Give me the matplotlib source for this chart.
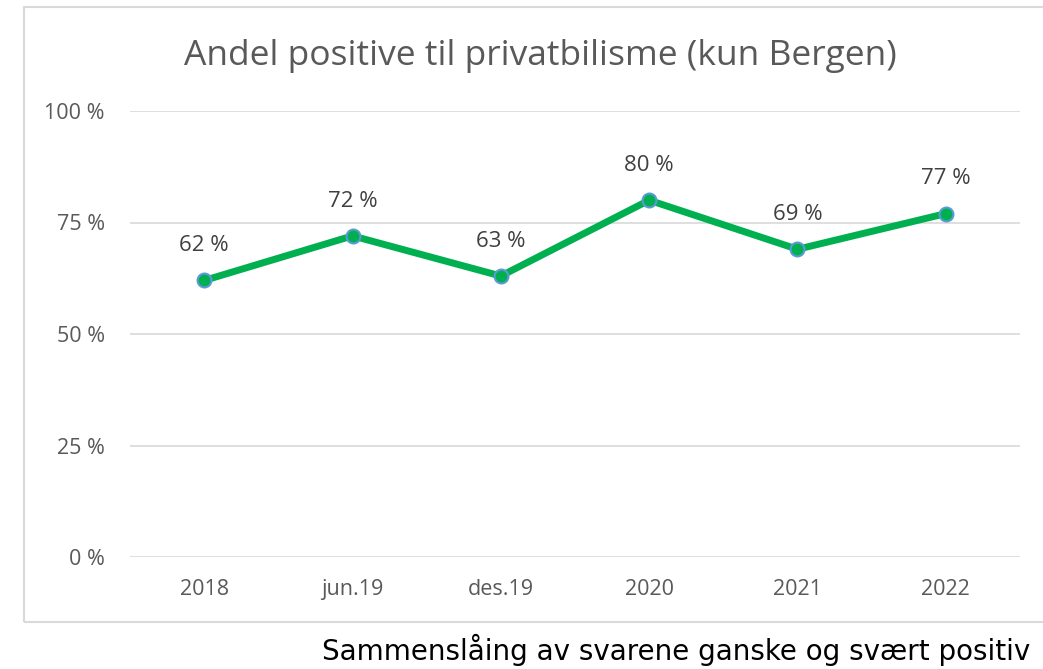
import matplotlib.pyplot as plt
from matplotlib.patches import Rectangle

categories = ["2018", "jun.19", "des.19", "2020", "2021", "2022"]
values = [62, 72, 63, 80, 69, 77]
yticks = [0, 25, 50, 75, 100]

plt.rcParams["font.family"] = ["Open Sans", "DejaVu Sans"]

fig = plt.figure(figsize=(10.43, 6.69), dpi=100)
ax = fig.add_axes([130 / 1043, 1 - 557 / 669, 890 / 1043, 446 / 669])

# chart frame
fig.patches.append(Rectangle((24 / 1043, 1 - 622 / 669), 1.1, 615 / 669,
                             transform=fig.transFigure, fill=False,
                             edgecolor="#d9d9d9", linewidth=1.5))

x = list(range(len(categories)))
ax.plot(x, values, color="#00b050", linewidth=5, marker="o",
        markersize=10, markerfacecolor="#00b050", markeredgecolor="#5b9bd5",
        markeredgewidth=1.5, zorder=3)
for xi, v in zip(x, values):
    ax.annotate(f"{v} %", (xi, v), xytext=(0, 25), textcoords="offset points",
                ha="center", va="center", fontsize=16, color="#404040")

ax.set_xlim(-0.5, len(categories) - 0.5)
ax.set_ylim(0, 100)
ax.set_yticks(yticks)
ax.set_yticklabels([f"{t} %" for t in yticks])
ax.set_xticks(x)
ax.set_xticklabels(categories)
ax.grid(axis="y", color="#d9d9d9", linewidth=1.2)
ax.set_axisbelow(True)
for s in ax.spines.values():
    s.set_visible(False)
ax.tick_params(length=0, labelsize=15.5, labelcolor="#595959")
ax.tick_params(axis="y", pad=18)
ax.tick_params(axis="x", pad=16)

fig.text(540 / 1043, 1 - 56 / 669, "Andel positive til privatbilisme (kun Bergen)",
         ha="center", va="center", fontsize=25.5, color="#595959")
fig.text(1030 / 1043, 1 - 650 / 669, "Sammenslåing av svarene ganske og svært positiv",
         ha="right", va="center", fontsize=20, color="black",
         family="DejaVu Sans")

fig.savefig("out.png", dpi=100)
